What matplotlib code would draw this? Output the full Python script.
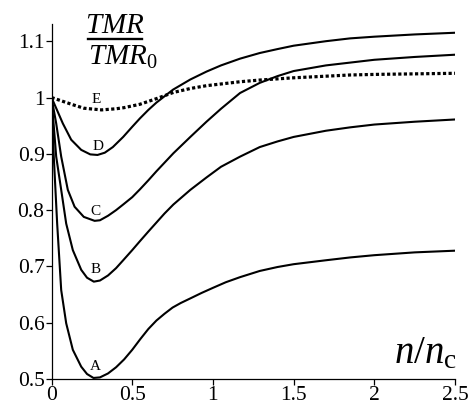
import matplotlib
matplotlib.use("Agg")
import matplotlib.pyplot as plt
from matplotlib.lines import Line2D

plt.rcParams['font.family'] = ['Liberation Serif', 'DejaVu Serif']
plt.rcParams['mathtext.fontset'] = 'custom'
plt.rcParams['mathtext.it'] = 'Liberation Serif:italic'
plt.rcParams['mathtext.rm'] = 'Liberation Serif'

# curve A
xa = [0, 0.014, 0.035, 0.06, 0.091, 0.132, 0.184, 0.22, 0.26, 0.3, 0.35, 0.4, 0.45, 0.5,
      0.55, 0.6, 0.65, 0.7, 0.75, 0.8, 0.858, 0.93, 1.0, 1.08, 1.168, 1.29, 1.4, 1.5,
      1.7, 1.85, 2.0, 2.25, 2.5]
ya = [1.0, 0.895, 0.776, 0.658, 0.599, 0.552, 0.522, 0.509, 0.502, 0.503, 0.51, 0.521, 0.535,
      0.552, 0.571, 0.589, 0.604, 0.616, 0.627, 0.635, 0.643, 0.653, 0.662, 0.672, 0.681,
      0.692, 0.699, 0.704, 0.711, 0.716, 0.72, 0.725, 0.728]
# curve B
xb = [0, 0.029, 0.06, 0.091, 0.132, 0.184, 0.22, 0.262, 0.3, 0.35, 0.4, 0.444, 0.5, 0.548,
      0.6, 0.65, 0.7, 0.755, 0.86, 0.96, 1.05, 1.168, 1.29, 1.4, 1.5, 1.7, 1.85, 2.0, 2.25, 2.5]
yb = [1.0, 0.895, 0.836, 0.776, 0.729, 0.694, 0.68, 0.673, 0.675, 0.684, 0.697, 0.711, 0.729,
      0.745, 0.762, 0.778, 0.794, 0.81, 0.836, 0.858, 0.877, 0.895, 0.912, 0.922, 0.93,
      0.941, 0.947, 0.952, 0.957, 0.961]
# curve C
xc = [0, 0.029, 0.06, 0.101, 0.143, 0.2, 0.267, 0.3, 0.35, 0.4, 0.444, 0.5, 0.548, 0.6,
      0.65, 0.755, 0.86, 0.96, 1.05, 1.168, 1.29, 1.4, 1.5, 1.7, 1.85, 2.0, 2.25, 2.5]
yc = [1.0, 0.954, 0.895, 0.836, 0.806, 0.788, 0.781, 0.782, 0.79, 0.8, 0.81, 0.823, 0.837,
      0.853, 0.869, 0.901, 0.93, 0.957, 0.98, 1.008, 1.026, 1.038, 1.047, 1.057, 1.062,
      1.067, 1.072, 1.076]
# curve D
xd = [0, 0.029, 0.07, 0.122, 0.184, 0.24, 0.285, 0.33, 0.38, 0.444, 0.5, 0.548, 0.6, 0.65,
      0.753, 0.86, 0.96, 1.05, 1.168, 1.29, 1.4, 1.5, 1.7, 1.85, 2.0, 2.25, 2.5]
yd = [1.0, 0.981, 0.954, 0.925, 0.907, 0.899, 0.898, 0.902, 0.912, 0.930, 0.948, 0.963,
      0.978, 0.991, 1.014, 1.032, 1.046, 1.057, 1.069, 1.079, 1.086, 1.092, 1.1, 1.105,
      1.108, 1.112, 1.115]
# curve E (dotted)
xe = [0, 0.134, 0.2, 0.31, 0.4, 0.45, 0.548, 0.65, 0.755, 0.86, 0.96, 1.168, 1.29, 1.5,
      1.85, 2.0, 2.25, 2.5]
ye = [1.0, 0.987, 0.981, 0.978, 0.98, 0.982, 0.988, 0.998, 1.009, 1.016, 1.021, 1.028,
      1.031, 1.035, 1.040, 1.041, 1.042, 1.043]

labels = ['A', 'B', 'C', 'D', 'E']
label_x = [0.27, 0.27, 0.275, 0.29, 0.275]
label_y = [0.523, 0.694, 0.798, 0.913, 0.997]

xticks = [0, 0.5, 1, 1.5, 2, 2.5]
xticklabels = ['0', '0.5', '1', '1.5', '2', '2.5']
yticks = [0.5, 0.6, 0.7, 0.8, 0.9, 1.0, 1.1]
yticklabels = ['0.5', '0.6', '0.7', '0.8', '0.9', '1', '1.1']

fig = plt.figure(figsize=(4.77, 4.05), dpi=100)
ax = fig.add_axes([0.108, 0.064, 0.846, 0.876])

for xs, ys in [(xa, ya), (xb, yb), (xc, yc), (xd, yd)]:
    ax.plot(xs, ys, color='black', linewidth=1.5, solid_joinstyle='round')
ax.plot(xe, ye, color='black', linewidth=2.3, linestyle=(0, (1, 0.75)),
        dash_capstyle='butt')

for lab, lx, ly in zip(labels, label_x, label_y):
    ax.text(lx, ly, lab, fontsize=11, ha='center', va='center')

ax.set_xlim(0, 2.5)
ax.set_ylim(0.5, 1.13)
ax.set_xticks(xticks)
ax.set_xticklabels(xticklabels)
ax.set_yticks(yticks)
ax.set_yticklabels(yticklabels)
ax.spines['top'].set_visible(False)
ax.spines['right'].set_visible(False)
for s in ['left', 'bottom']:
    ax.spines[s].set_linewidth(0.9)
ax.tick_params(direction='out', length=4, width=0.9, labelsize=15.5, pad=1)

# fraction label TMR / TMR0
fig.text(0.241, 0.9185, r'$TMR$', fontsize=21, ha='center', va='baseline')
fig.add_artist(Line2D([0.1845, 0.2977], [0.9037, 0.9037], color='black', linewidth=1.7))
fig.text(0.1845, 0.8395, r'$TMR_\mathrm{0}$', fontsize=21, ha='left', va='baseline')

fig.text(0.826, 0.104, r'$n/n_\mathrm{c}$', fontsize=28, ha='left', va='baseline')

fig.savefig('out.png', dpi=100)
